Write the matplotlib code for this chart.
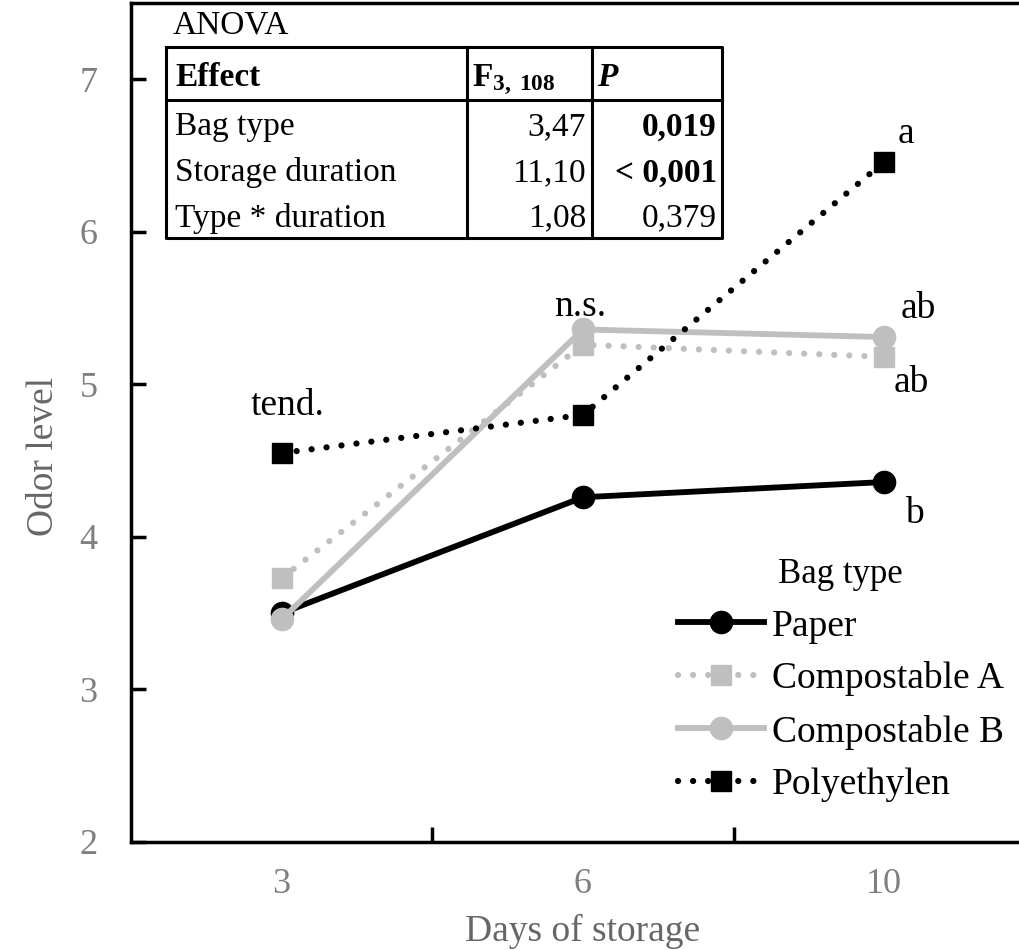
import matplotlib
matplotlib.use('Agg')
import matplotlib.pyplot as plt
from matplotlib.transforms import Affine2D

plt.rcParams['font.family'] = ['Liberation Serif', 'DejaVu Serif']
plt.rcParams['mathtext.fontset'] = 'custom'
plt.rcParams['mathtext.rm'] = 'Liberation Serif'
plt.rcParams['mathtext.bf'] = 'Liberation Serif:bold'
plt.rcParams['mathtext.it'] = 'Liberation Serif:italic'

# data
days = ['3', '6', '10']
paper = [3.50, 4.26, 4.36]
comp_a = [3.73, 5.26, 5.18]
comp_b = [3.46, 5.36, 5.31]
poly = [4.55, 4.80, 6.46]

# ANOVA table
effects = ['Bag type', 'Storage duration', 'Type * duration']
f_values = ['3,47', '11,10', '1,08']
p_values = ['0,019', '< 0,001', '0,379']
p_bold = [True, True, False]

W, H = 1020, 950
fig = plt.figure(figsize=(W / 100, H / 100), dpi=100)
ax = fig.add_axes([131 / W, 108 / H, 904 / W, 839 / H])
x = list(range(len(days)))

grey = '#bfbfbf'
dot = (0, (0.01, 2.4))
ax.plot(x, paper, color='black', lw=4.2, marker='o', ms=16, label='Paper')
ax.plot(x, comp_a, color=grey, lw=4.5, ls=dot, dash_capstyle='round',
        marker='s', ms=14, label='Compostable A')
ax.plot(x, comp_b, color=grey, lw=4.2, marker='o', ms=16, label='Compostable B')
ax.plot(x, poly, color='black', lw=4.5, ls=dot, dash_capstyle='round',
        marker='s', ms=14, label='Polyethylen')

# significance letters, offsets in pixels from the points
notes = [('tend.', 0, poly[0], 6, 47),
         ('n.s.', 1, comp_b[1], -3, 23),
         ('a', 2, poly[2], 22, 28),
         ('ab', 2, comp_b[2], 34, 28),
         ('ab', 2, comp_a[2], 27, -26),
         ('b', 2, paper[2], 30, -32)]
for txt, xi, yi, dx, dy in notes:
    ax.annotate(txt, (xi, yi), xytext=(dx, dy), textcoords='offset pixels',
                ha='center', va='center', fontsize=27)

ax.set_xlim(-0.5, 2.5)
ax.set_ylim(2, 7.5)
ax.set_xticks([0.5, 1.5])
ax.set_xticklabels([])
ax.set_xticks(x, minor=True)
ax.set_xticklabels(days, minor=True)
ax.tick_params(axis='x', which='minor', length=0, pad=19, labelsize=26,
               labelcolor='#7f7f7f')
ax.tick_params(axis='x', which='major', direction='in', length=11, width=2.5)
ax.set_yticks(range(2, 8))
ax.tick_params(axis='y', direction='in', length=11, width=2.5, pad=24,
               labelsize=26, labelcolor='#7f7f7f')

ax.spines['right'].set_visible(False)
for s in ['top', 'left', 'bottom']:
    ax.spines[s].set_linewidth(2.5)

ax.set_xlabel('Days of storage', fontsize=27, color='#666666')
ax.set_ylabel('Odor level', fontsize=27, color='#666666')
ax.xaxis.set_label_coords(0.5, -0.086)
ax.yaxis.set_label_coords(-0.077, 0.459)

ax.legend(title='Bag type', loc='upper left',
          bbox_to_anchor=(678 / W, 1 - 558 / H), bbox_transform=fig.transFigure,
          frameon=False, fontsize=27, title_fontsize=25, handlelength=2.3,
          handletextpad=0.2, labelspacing=0.48, borderpad=0, borderaxespad=0)

# table drawn in figure pixels (y down)
tp = Affine2D().scale(1 / W, -1 / H).translate(0, 1) + fig.transFigure
left, right, top, bottom = 166, 722, 47, 238
col1, col2, head = 467, 592, 100
lw = 2.2
for xs, ys in [([left, right, right, left, left], [top, top, bottom, bottom, top]),
               ([left, right], [head, head]),
               ([col1, col1], [top, bottom]),
               ([col2, col2], [top, bottom])]:
    fig.add_artist(plt.Line2D(xs, ys, color='black', lw=lw, transform=tp))

fs = 24
fig.text(173, 25, 'ANOVA', transform=tp, fontsize=fs, va='center')
fig.text(175, 78, 'Effect', transform=tp, fontsize=fs, va='center',
         fontweight='bold')
fig.text(472, 80, r'$\mathbf{F}_{\mathbf{3,\ 108}}$', transform=tp,
         fontsize=fs, va='center')
fig.text(597, 78, 'P', transform=tp, fontsize=fs, va='center',
         fontweight='bold', fontstyle='italic')
row_y = [127, 173, 218]
for i in range(len(effects)):
    fig.text(175, row_y[i], effects[i], transform=tp, fontsize=fs, va='center')
    fig.text(586, row_y[i], f_values[i], transform=tp, fontsize=fs,
             va='center', ha='right')
    fig.text(717, row_y[i], p_values[i], transform=tp, fontsize=fs,
             va='center', ha='right',
             fontweight='bold' if p_bold[i] else 'normal')

fig.savefig('out.png', dpi=100)
